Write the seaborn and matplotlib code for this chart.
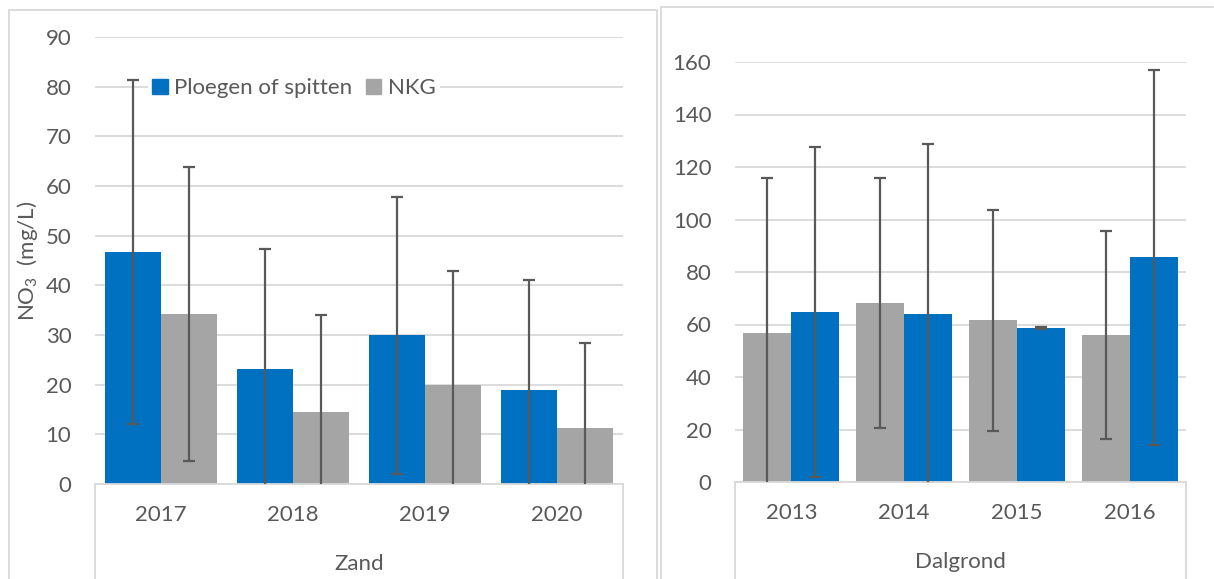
import numpy as np
import pandas as pd
import seaborn as sns
import matplotlib.pyplot as plt
from matplotlib.lines import Line2D
from matplotlib.patches import Patch

# Data: Zand (left panel)
zand_years = ['2017', '2018', '2019', '2020']
zand_ploegen = [46.7, 23.1, 29.9, 19.0]
zand_ploegen_err = [34.7, 24.2, 27.8, 22.0]
zand_nkg = [34.2, 14.5, 19.9, 11.2]
zand_nkg_err = [29.6, 19.5, 23.0, 17.1]

# Data: Dalgrond (right panel)
dal_years = ['2013', '2014', '2015', '2016']
dal_nkg = [56.9, 68.2, 61.6, 56.0]
dal_nkg_err = [59.0, 47.6, 42.1, 39.8]
dal_ploegen = [64.7, 64.0, 58.6, 85.6]
dal_ploegen_err = [62.8, 64.8, 0.3, 71.4]

S_PLOEG = 'Ploegen of spitten'
S_NKG = 'NKG'
COLORS = {S_PLOEG: '#0070C0', S_NKG: '#A5A5A5'}
TXT = '#595959'
GRID = '#D9D9D9'
FS = 16

sns.set_theme(style='white')
plt.rcParams['font.family'] = ['Lato', 'DejaVu Sans']
plt.rcParams['mathtext.default'] = 'regular'

W, H = 1214, 579
fig = plt.figure(figsize=(W / 100, H / 100), dpi=100)


def px_axes(x0, y0, x1, y1):
    return fig.add_axes([x0 / W, 1 - y1 / H, (x1 - x0) / W, (y1 - y0) / H])


def fig_line(xs, ys):
    fig.add_artist(Line2D([x / W for x in xs], [1 - y / H for y in ys],
                          color=GRID, lw=1.3, transform=fig.transFigure))


def draw_panel(ax, years, series, ymax, step, group_label):
    order = [s[0] for s in series]
    df = pd.DataFrame({
        'year': [y for s in series for y in years],
        'serie': [s[0] for s in series for _ in years],
        'value': [v for s in series for v in s[1]],
    })
    sns.barplot(data=df, x='year', y='value', hue='serie', hue_order=order,
                order=years, palette=COLORS, saturation=1, width=0.85,
                linewidth=0, errorbar=None, legend=False, ax=ax, zorder=2)
    for cont, s in zip(ax.containers, series):
        xs = [b.get_x() + b.get_width() / 2 for b in cont]
        ys = [b.get_height() for b in cont]
        ax.errorbar(xs, ys, yerr=s[2], fmt='none', ecolor=TXT,
                    elinewidth=1.6, capsize=4.5, capthick=1.6, zorder=3)
    ax.set_ylim(0, ymax)
    ax.set_yticks(np.arange(0, ymax + 1, step))
    ax.set_xlim(-0.5, len(years) - 0.5)
    ax.yaxis.grid(True, color=GRID, lw=1.3, zorder=0)
    ax.set_axisbelow(True)
    for sp in ['left', 'right', 'top']:
        ax.spines[sp].set_visible(False)
    ax.spines['bottom'].set_color(GRID)
    ax.spines['bottom'].set_linewidth(1.3)
    ax.tick_params(axis='both', length=0, labelsize=FS, labelcolor=TXT)
    ax.tick_params(axis='y', pad=17)
    ax.tick_params(axis='x', pad=15)
    ax.set_xlabel(group_label, fontsize=FS, color=TXT, labelpad=21)
    ax.set_ylabel('')


# panel borders
fig_line([9, 9, 657, 657], [579, 10, 10, 579])
fig_line([661, 661, 1213], [579, 7, 7])

# left panel
ax1 = px_axes(95, 37, 623, 484)
draw_panel(ax1, zand_years,
           [(S_PLOEG, zand_ploegen, zand_ploegen_err),
            (S_NKG, zand_nkg, zand_nkg_err)],
           90, 10, 'Zand')
ax1.set_ylabel('NO$_3$  (mg/L)', fontsize=FS, color=TXT)
ax1.yaxis.set_label_coords(-0.104, 0.5)
handles = [Patch(color=COLORS[S_PLOEG]), Patch(color=COLORS[S_NKG])]
leg = ax1.legend(handles, [S_PLOEG, S_NKG], loc='center left',
                 bbox_to_anchor=(0.1, 0.885), ncol=2, frameon=True,
                 fontsize=FS, handlelength=0.7, handleheight=0.7,
                 handletextpad=0.3, columnspacing=0.6, borderpad=0.2,
                 borderaxespad=0)
leg.get_frame().set_facecolor('white')
leg.get_frame().set_edgecolor('none')
leg.get_frame().set_alpha(1)
for t in leg.get_texts():
    t.set_color(TXT)
fig_line([95, 95], [484, 579])
fig_line([623, 623], [484, 579])

# right panel
ax2 = px_axes(735, 62, 1186, 482)
draw_panel(ax2, dal_years,
           [(S_NKG, dal_nkg, dal_nkg_err),
            (S_PLOEG, dal_ploegen, dal_ploegen_err)],
           160, 20, 'Dalgrond')
fig_line([735, 735], [482, 579])
fig_line([1186, 1186], [482, 579])

fig.savefig('out.png', dpi=100)
